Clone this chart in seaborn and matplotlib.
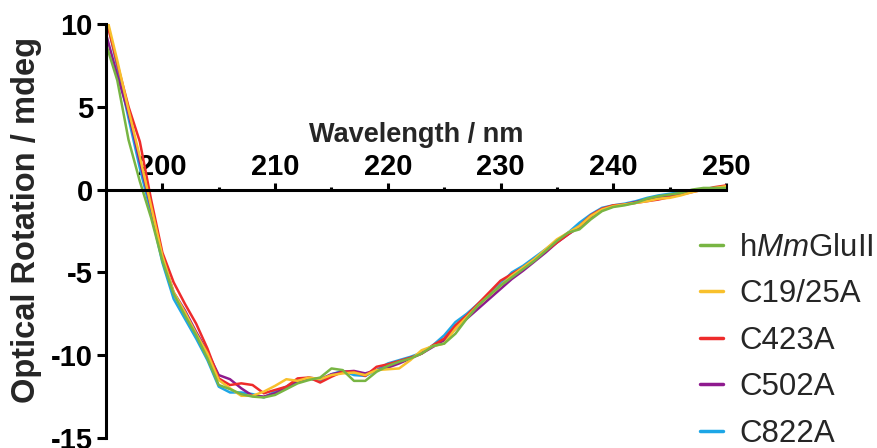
import matplotlib
matplotlib.use("Agg")
import matplotlib.pyplot as plt
from matplotlib.ticker import MultipleLocator
import numpy as np
import pandas as pd
import seaborn as sns

# Far-UV CD spectra (mdeg) for wild-type and cysteine mutants
wavelength = list(range(195, 251))

hmmglu = [8.8, 6.6, 3.0, 0.5, -1.7, -4.3, -6.3, -7.6, -8.8, -10.2,
          -11.8, -12.05, -12.35, -12.5, -12.55, -12.4, -12.05, -11.7, -11.5, -11.35,
          -10.8, -10.9, -11.55, -11.55, -11.0, -10.65, -10.4, -10.2, -9.9, -9.45,
          -9.3, -8.7, -7.8, -7.0, -6.4, -5.8, -5.3, -4.8, -4.3, -3.7,
          -3.1, -2.6, -2.4, -1.8, -1.3, -1.05, -0.95, -0.8, -0.55, -0.4,
          -0.3, -0.2, 0.0, 0.1, 0.1, 0.1]

c19_25a = [10.6, 7.8, 4.8, 2.0, -1.0, -4.0, -6.2, -7.4, -8.7, -9.9,
           -11.5, -12.0, -12.45, -12.45, -12.2, -11.85, -11.45, -11.55, -11.35, -11.45,
           -11.2, -11.1, -11.05, -11.2, -10.9, -10.85, -10.8, -10.3, -9.7, -9.45,
           -9.3, -8.4, -7.7, -7.0, -6.4, -5.8, -5.2, -4.7, -4.2, -3.6,
           -3.0, -2.6, -2.2, -1.6, -1.2, -1.0, -0.9, -0.8, -0.7, -0.55,
           -0.5, -0.35, -0.15, 0.0, 0.1, 0.2]

c423a = [10.3, 7.6, 5.0, 2.9, -0.6, -3.8, -5.6, -6.9, -8.1, -9.6,
         -11.4, -11.8, -11.7, -11.8, -12.3, -12.1, -11.9, -11.4, -11.35, -11.65,
         -11.3, -11.0, -11.0, -11.25, -10.7, -10.55, -10.35, -10.15, -9.9, -9.4,
         -9.0, -8.2, -7.6, -6.9, -6.2, -5.5, -5.1, -4.7, -4.2, -3.7,
         -3.2, -2.7, -2.2, -1.55, -1.15, -0.95, -0.9, -0.8, -0.7, -0.6,
         -0.45, -0.3, -0.15, 0.0, 0.15, 0.25]

c502a = [9.4, 6.9, 4.6, 1.7, -1.1, -4.1, -6.2, -7.3, -8.6, -9.8,
         -11.2, -11.45, -12.0, -12.45, -12.5, -12.3, -11.95, -11.6, -11.35, -11.45,
         -11.15, -11.0, -10.95, -11.1, -10.9, -10.75, -10.5, -10.2, -9.9, -9.5,
         -9.1, -8.4, -7.8, -7.2, -6.6, -6.0, -5.4, -4.9, -4.35, -3.8,
         -3.2, -2.7, -2.25, -1.65, -1.25, -1.0, -0.9, -0.75, -0.6, -0.45,
         -0.35, -0.25, -0.1, 0.0, 0.1, 0.15]

c822a = [10.5, 7.4, 4.3, 1.3, -1.4, -4.4, -6.6, -7.8, -9.0, -10.3,
         -11.9, -12.25, -12.25, -12.35, -12.55, -12.2, -11.9, -11.5, -11.4, -11.55,
         -11.15, -10.95, -11.2, -11.25, -10.9, -10.5, -10.3, -10.1, -9.85, -9.4,
         -8.8, -8.0, -7.5, -6.9, -6.3, -5.7, -5.0, -4.6, -4.1, -3.6,
         -3.1, -2.6, -2.0, -1.5, -1.1, -0.95, -0.85, -0.7, -0.5, -0.35,
         -0.25, -0.15, -0.05, 0.05, 0.1, 0.15]

sample_names = [r"h$\mathit{Mm}$GluII", "C19/25A", "C423A", "C502A", "C822A"]
sample_values = [hmmglu, c19_25a, c423a, c502a, c822a]
sample_colors = ["#78B543", "#F8C02C", "#EE2B2B", "#8E1A8E", "#1DA6E6"]

x_ticks = [200, 210, 220, 230, 240, 250]
y_ticks = [10, 5, 0, -5, -10, -15]

df = pd.DataFrame({
    "Wavelength": wavelength * len(sample_names),
    "Rotation": np.concatenate(sample_values),
    "Sample": np.repeat(sample_names, len(wavelength)),
})

sns.set_style("ticks")
plt.rcParams["font.family"] = ["Liberation Sans", "DejaVu Sans"]
plt.rcParams["axes.unicode_minus"] = False
plt.rcParams["mathtext.fontset"] = "custom"
plt.rcParams["mathtext.rm"] = "Liberation Sans"
plt.rcParams["mathtext.it"] = "Liberation Sans:italic"

fig = plt.figure(figsize=(8.77, 4.48), dpi=100)
ax = fig.add_axes([106 / 877, 10 / 448, 620 / 877, 414 / 448])

palette = dict(zip(sample_names, sample_colors))
sns.lineplot(data=df, x="Wavelength", y="Rotation", hue="Sample",
             hue_order=sample_names[::-1], palette=palette,
             linewidth=1.8, ax=ax)

ax.set_xlim(195, 250)
ax.set_ylim(-15, 10)
ax.set_xticks(x_ticks)
ax.set_yticks(y_ticks)
ax.xaxis.set_minor_locator(MultipleLocator(5))

# x axis crosses at zero with ticks and labels above it
ax.spines["top"].set_position(("data", 0))
ax.spines["bottom"].set_visible(False)
ax.spines["right"].set_visible(False)
for s in ("top", "left"):
    ax.spines[s].set_linewidth(2.2)
    ax.spines[s].set_color("black")
ax.xaxis.set_ticks_position("top")
ax.xaxis.set_label_position("top")

ax.tick_params(axis="x", which="major", direction="out", length=5, width=2.2,
               labelsize=21, pad=1, colors="black")
ax.tick_params(axis="x", which="minor", direction="out", length=2.5, width=2.2,
               colors="black")
ax.tick_params(axis="y", which="major", direction="out", length=6.5, width=2.2,
               labelsize=21, pad=3, colors="black")
for lbl in ax.get_xticklabels() + ax.get_yticklabels():
    lbl.set_fontweight("bold")

ax.set_xlabel("Wavelength / nm", fontsize=19.5, fontweight="bold")
ax.xaxis.set_label_coords(0.5, 0.715)
ax.set_ylabel("Optical Rotation / mdeg", fontsize=23.5, fontweight="bold")
ax.yaxis.set_label_coords(-0.103, 0.527)

handles, labels = ax.get_legend_handles_labels()
ax.get_legend().remove()
lookup = dict(zip(labels, handles))
leg = fig.legend([lookup[n] for n in sample_names], sample_names,
                 loc="upper left", bbox_to_anchor=(700 / 877, 1 - 233 / 448),
                 frameon=False, borderpad=0, borderaxespad=0,
                 handlelength=0.75, handletextpad=0.5, labelspacing=0.525,
                 prop={"size": 22.5, "weight": "normal"})
for line in leg.get_lines():
    line.set_linewidth(2.5)

fig.savefig("out.png", dpi=100)
